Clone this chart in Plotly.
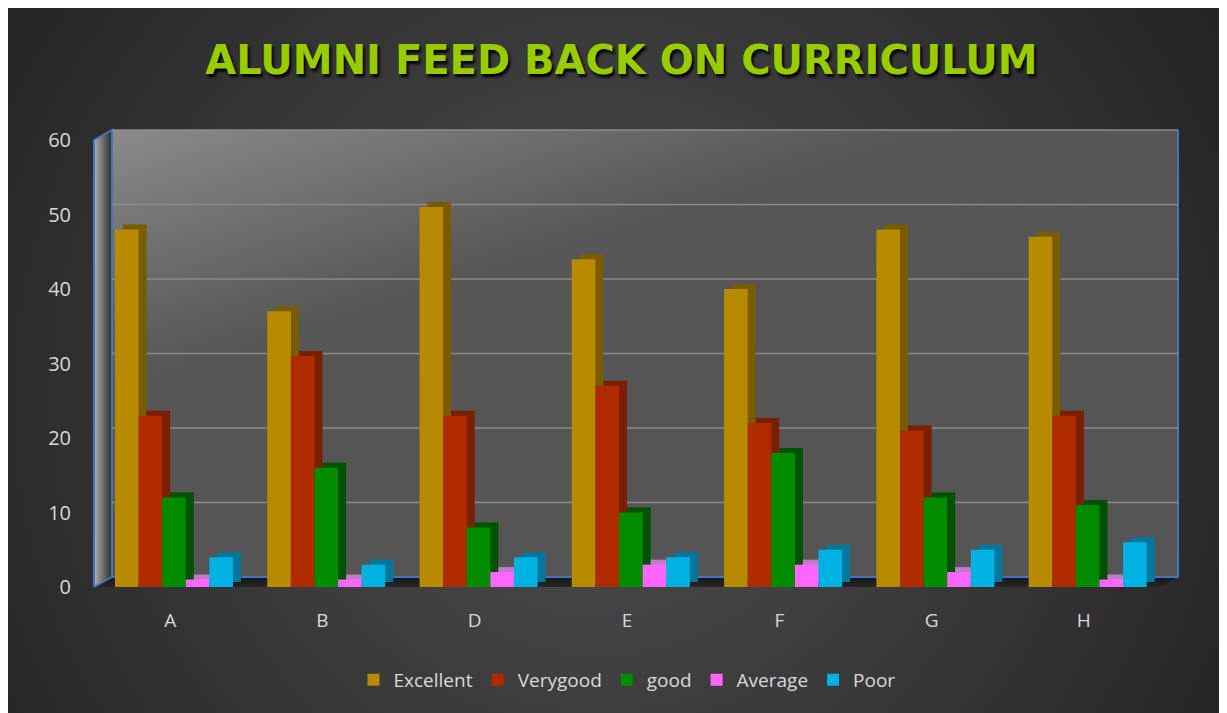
import base64
import plotly.graph_objects as go

categories = ["A", "B", "D", "E", "F", "G", "H"]
series_names = ["Excellent", "Verygood", "good", "Average", "Poor"]
excellent = [48, 37, 51, 44, 40, 48, 47]
verygood = [23, 31, 23, 27, 22, 21, 23]
good = [12, 16, 8, 10, 18, 12, 11]
average = [1, 1, 2, 3, 3, 2, 1]
poor = [4, 3, 4, 4, 5, 5, 6]
y_ticks = [0, 10, 20, 30, 40, 50, 60]

series_values = [excellent, verygood, good, average, poor]
front_colors = ["#B88A00", "#B02C00", "#008C00", "#FF66FF", "#00B2E4"]
side_colors = ["#7A5C00", "#7A2000", "#005200", "#C47AC8", "#00779C"]

W, H = 1227, 713
L, R, T, B = 86, 75, 132, 134
PW, PH = W - L - R, H - T - B
YMAX = 60
PX_PER_UNIT = PH / YMAX
DX, DY = 18, 10  # depth offset of back wall (px)

bx0, bx1 = L + DX, L + PW + DX
by0, by1 = T - DY, T + PH - DY
svg = f'''<svg xmlns="http://www.w3.org/2000/svg" width="{W}" height="{H}" viewBox="0 0 {W} {H}" preserveAspectRatio="none">
<defs>
<radialGradient id="bg" cx="592" cy="392" r="720" gradientUnits="userSpaceOnUse">
<stop offset="0" stop-color="#505050"/><stop offset="1" stop-color="#242424"/></radialGradient>
<linearGradient id="wall" x1="0" y1="0" x2="0.45" y2="0.6">
<stop offset="0" stop-color="#8a8a8a"/><stop offset="0.6" stop-color="#575757"/><stop offset="1" stop-color="#555555"/></linearGradient>
<linearGradient id="side" x1="0" y1="0" x2="1" y2="0">
<stop offset="0" stop-color="#b0b0b0"/><stop offset="1" stop-color="#2c2c2c"/></linearGradient>
<linearGradient id="floor" x1="0" y1="0" x2="0" y2="1">
<stop offset="0" stop-color="#161616"/><stop offset="1" stop-color="#262626"/></linearGradient>
</defs>
<rect x="0" y="0" width="{W}" height="{H}" fill="url(#bg)"/>
<rect x="{bx0}" y="{by0}" width="{PW}" height="{PH}" fill="url(#wall)"/>
<polygon points="{L},{T} {bx0},{by0} {bx0},{by1} {L},{T+PH}" fill="url(#side)"/>
<polygon points="{L},{T+PH} {bx0},{by1} {bx1},{by1} {L+PW},{T+PH}" fill="url(#floor)"/>
<polyline points="{L},{T+PH} {L},{T} {bx0},{by0} {bx0},{by1} {bx1},{by1} {bx1},{by0}" fill="none" stroke="#4472C4" stroke-width="2"/>
<line x1="{L}" y1="{T+PH}" x2="{bx0}" y2="{by1}" stroke="#4472C4" stroke-width="2"/>
<line x1="{bx0}" y1="{by0}" x2="{bx1}" y2="{by0}" stroke="#8c8c8c" stroke-width="1.5"/>
</svg>'''
svg_uri = "data:image/svg+xml;base64," + base64.b64encode(svg.encode()).decode()

fig = go.Figure()

bw = 0.155
start = -2.5 * bw + 0.025
depth_x = 8 / (PW / len(categories))
depth_y = 5 / PX_PER_UNIT

# side/top faces first
for i, (name, vals) in enumerate(zip(series_names, series_values)):
    fig.add_trace(go.Bar(
        x=categories, y=vals, base=depth_y, name=name,
        offset=start + i * bw + depth_x, width=bw,
        marker=dict(color=side_colors[i], line=dict(width=0)),
        showlegend=False, hoverinfo="skip",
    ))
# front faces
for i, (name, vals) in enumerate(zip(series_names, series_values)):
    fig.add_trace(go.Bar(
        x=categories, y=vals, name=name,
        offset=start + i * bw, width=bw,
        marker=dict(color=front_colors[i], line=dict(width=0)),
    ))

# back-wall gridlines
for v in y_ticks[1:-1]:
    fig.add_shape(type="line", xref="paper", yref="y",
                  x0=DX / PW, x1=1 + DX / PW,
                  y0=v + DY / PX_PER_UNIT, y1=v + DY / PX_PER_UNIT,
                  line=dict(color="#8a8a8a", width=1.5), layer="below")

fig.update_layout(
    width=W, height=H,
    margin=dict(l=L, r=R, t=T, b=B),
    paper_bgcolor="#2a2a2a", plot_bgcolor="rgba(0,0,0,0)",
    barmode="overlay",
    images=[dict(source=svg_uri, xref="paper", yref="paper",
                 x=-L / PW, y=1 + T / PH, sizex=W / PW, sizey=H / PH,
                 xanchor="left", yanchor="top", sizing="stretch", layer="below")],
    title=dict(text="ALUMNI FEED BACK ON CURRICULUM", x=0.5, xanchor="center",
               y=1 - 52 / H, yanchor="middle",
               font=dict(family="DejaVu Sans", size=40, color="#99CC00", weight="bold",
                         shadow="2px 3px 3px #000000")),
    xaxis=dict(showgrid=False, zeroline=False, showline=False, ticks="",
               tickfont=dict(family="Open Sans", size=19, color="#d9d9d9"),
               ticklabelstandoff=20, fixedrange=True),
    yaxis=dict(range=[0, YMAX], tickvals=y_ticks, showgrid=False, zeroline=False,
               showline=False, ticks="",
               tickfont=dict(family="Open Sans", size=20, color="#d9d9d9"),
               ticklabelstandoff=22, fixedrange=True),
    legend=dict(orientation="h", x=0.5, xanchor="center", y=-93 / PH, yanchor="middle",
                font=dict(family="Open Sans", size=19, color="#d9d9d9"),
                bgcolor="rgba(0,0,0,0)", itemwidth=30, traceorder="normal"),
    showlegend=True,
)

fig.write_html("out.html")
